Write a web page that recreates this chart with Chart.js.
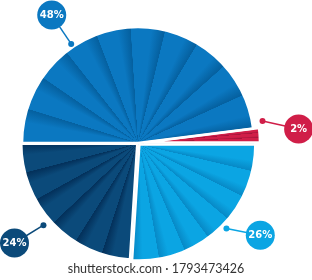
<!DOCTYPE html>
<html>
<head>
<meta charset="utf-8">
<script src="https://cdn.jsdelivr.net/npm/chart.js@4.4.0/dist/chart.umd.min.js"></script>
<style>
  html, body { margin: 0; padding: 0; background: #fff; }
</style>
</head>
<body>
<canvas id="pieChart" width="312" height="280"></canvas>
<script>
// ===== データ =====
const labels = ['48%', '2%', '26%', '24%'];
const values = [48, 2, 26, 24];

// ===== 色・スタイル =====
const baseColors = ['#0b78c1', '#d01e48', '#0ba5e3', '#0b4a7a'];
const shadeColors = ['#05609f', '#a3143a', '#0789c6', '#03305a'];
const stripeCounts = [10, 3, 7, 6];
const sliceOffsets = [0, 6, 2, 1];

// ===== 吹き出しの位置 (角度・半径比) =====
const dotAngles = [-124, -10, 44, 139];
const dotDist = [1.03, 1.09, 1.06, 1.08];
const bubbleAngles = [-124, -5, 37, 141];
const bubbleDist = [1.33, 1.39, 1.32, 1.37];

const rad = d => d * Math.PI / 180;

// 扇形の中に放射状の折り目を描く
const stripePlugin = {
    id: 'stripes',
    afterDatasetsDraw(chart) {
        const ctx = chart.ctx;
        const arcs = chart.getDatasetMeta(0).data;
        const paths = [];
        arcs.forEach((arc, i) => {
            const p = arc.getProps(['x', 'y', 'startAngle', 'endAngle', 'outerRadius'], true);
            const mid = (p.startAngle + p.endAngle) / 2;
            const off = arc.options.offset || 0;
            const cx = p.x + Math.cos(mid) * off;
            const cy = p.y + Math.sin(mid) * off;
            const span = p.endAngle - p.startAngle;

            const path = new Path2D();
            path.moveTo(cx, cy);
            path.arc(cx, cy, p.outerRadius, p.startAngle, p.endAngle);
            path.closePath();
            paths.push(path);

            const g = ctx.createConicGradient(p.startAngle, cx, cy);
            const n = stripeCounts[i];
            const w = span / n / (Math.PI * 2);
            for (let k = 0; k < n; k++) {
                const a = k * w;
                g.addColorStop(a, baseColors[i]);
                g.addColorStop(a + w * 0.6, baseColors[i]);
                g.addColorStop(a + w * 0.99, shadeColors[i]);
            }
            g.addColorStop(Math.min(1, n * w + 0.001), baseColors[i]);
            ctx.save();
            ctx.fillStyle = g;
            ctx.fill(path);
            ctx.restore();
        });
        // 白い隙間
        ctx.save();
        ctx.lineWidth = 2.5;
        ctx.strokeStyle = '#fff';
        ctx.lineJoin = 'bevel';
        paths.forEach(path => ctx.stroke(path));
        ctx.restore();
    }
};

// 吹き出しラベルと透かし文字
const calloutPlugin = {
    id: 'callouts',
    afterDraw(chart) {
        const ctx = chart.ctx;
        const arc0 = chart.getDatasetMeta(0).data[0];
        const cx = arc0.x, cy = arc0.y, r = arc0.outerRadius;
        labels.forEach((txt, i) => {
            const da = rad(dotAngles[i]);
            const ba = rad(bubbleAngles[i]);
            const dx = cx + Math.cos(da) * r * dotDist[i];
            const dy = cy + Math.sin(da) * r * dotDist[i];
            const bx = cx + Math.cos(ba) * r * bubbleDist[i];
            const by = cy + Math.sin(ba) * r * bubbleDist[i];
            ctx.save();
            ctx.strokeStyle = baseColors[i];
            ctx.fillStyle = baseColors[i];
            ctx.lineWidth = 1.5;
            ctx.beginPath();
            ctx.moveTo(dx, dy);
            ctx.lineTo(bx, by);
            ctx.stroke();
            ctx.beginPath();
            ctx.arc(dx, dy, 3, 0, Math.PI * 2);
            ctx.fill();
            ctx.beginPath();
            ctx.arc(bx, by, 14.5, 0, Math.PI * 2);
            ctx.fill();
            ctx.fillStyle = '#fff';
            ctx.font = 'bold 10px "DejaVu Sans"';
            ctx.textAlign = 'center';
            ctx.textBaseline = 'middle';
            ctx.fillText(txt, bx, by + 0.5);
            ctx.restore();
        });
        ctx.save();
        ctx.fillStyle = '#333';
        ctx.font = '12.5px "Lato"';
        ctx.textAlign = 'center';
        ctx.textBaseline = 'middle';
        ctx.fillText('shutterstock.com · 1793473426', 156, 269);
        ctx.restore();
    }
};

const canvas = document.getElementById('pieChart');
new Chart(canvas.getContext('2d'), {
    type: 'pie',
    data: {
        labels: labels,
        datasets: [{
            data: values,
            backgroundColor: baseColors,
            borderWidth: 0,
            offset: sliceOffsets,
            radius: 116
        }]
    },
    options: {
        responsive: false,
        animation: false,
        rotation: 270,
        layout: { padding: { left: 0, right: 36, top: 6, bottom: 0 } },
        plugins: {
            legend: { display: false },
            tooltip: { enabled: false }
        }
    },
    plugins: [stripePlugin, calloutPlugin]
});
</script>
</body>
</html>
